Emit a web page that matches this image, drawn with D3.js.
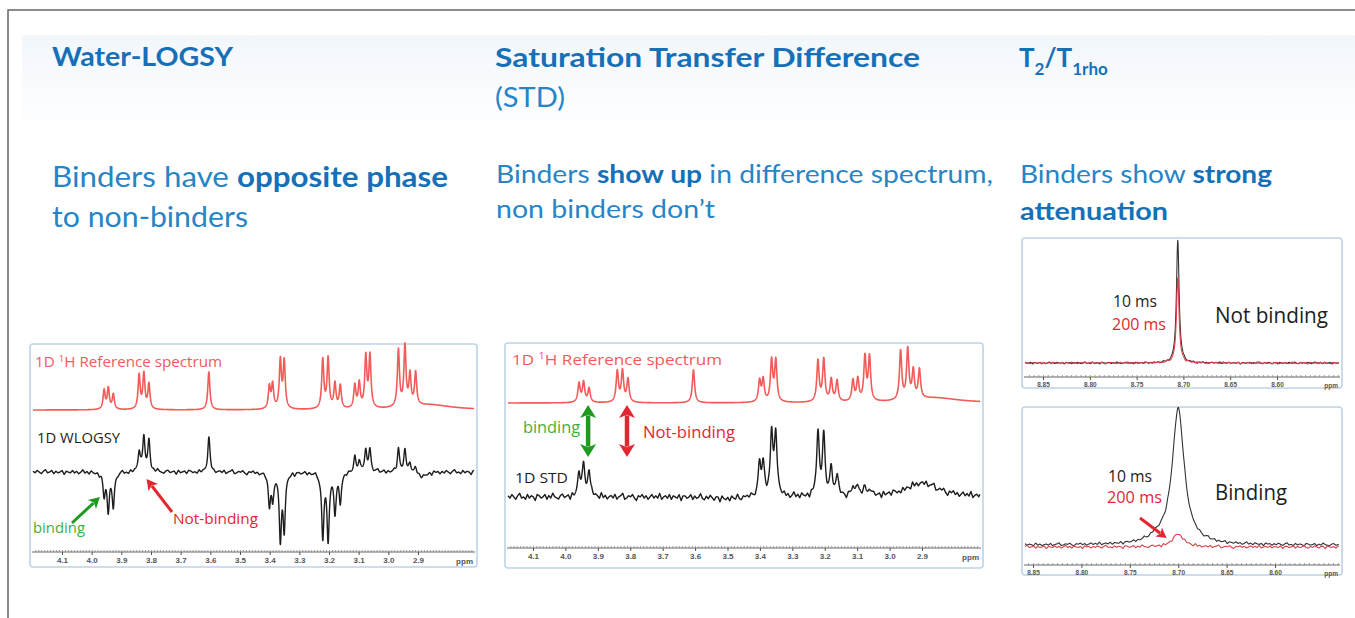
<!DOCTYPE html>
<html lang="en">
<head>
<meta charset="UTF-8">
<title>Ligand-observed NMR screening</title>
<script src="https://cdn.jsdelivr.net/npm/d3@7"></script>
<style>
  body { margin: 0; background: #fff; }
  svg { display: block; font-family: 'Lato', 'Open Sans', sans-serif; }
  .tick text { font-family: 'Liberation Sans', Arial, sans-serif; font-weight: bold; fill: #555; }
</style>
</head>
<body>
<svg id="chart" width="1355" height="618"></svg>
<script>
// ---- data -------------------------------------------------------------
// peak positions (ppm) shared by the reference and the screening spectra
const peakPpm = [3.958, 3.944, 3.927, 3.840, 3.824, 3.807, 3.605, 3.401, 3.390, 3.364, 3.351,
                 3.221, 3.203, 3.180, 3.162, 3.113, 3.098, 3.076, 3.062, 2.966, 2.944, 2.927, 2.908];
// peak heights
const refHeightsLogsy = [19, 21, 15, 34, 35, 25, 38, 22, 24, 48, 47, 49, 50, 25, 23, 23, 25, 51, 52, 57, 60, 31, 33];
const wlogsyHeights   = [-23, -37, -35, 21, 34, 30, 34, -31, -26, -65, -54, -64, -66, -39, -30, 14, 12, 21, 21, 23, 21, 9, 4];
const refHeightsStd   = [19, 20, 14, 31, 31, 23, 33, 21, 22, 41, 41, 41, 42, 22, 21, 21, 22, 44, 44, 49, 50, 28, 29];
const stdHeights      = [23, 30, 26, 0, 0, 0, 0, 30, 31, 62, 62, 64, 59, 25, 21, 9, 11, 7, 7, 0, 0, 0, 0];

// broad baseline features: [ppm, height, half width]
const refHumps    = [[2.86, 5, 0.09]];
const wlogsyHumps = [[2.885, -5, 0.015]];
const stdHumps    = [[2.90, 14, 0.06], [3.50, -2, 0.05]];

// T2 / T1rho relaxation-filtered peak at 8.70 ppm: [ppm, height, half width]
const notBinding10  = [[8.706, 123, 0.0017]];
const notBinding200 = [[8.706, 85, 0.0017]];
const binding10     = [[8.700, 136, 0.0075], [8.722, 4, 0.010]];
const binding200    = [[8.700, 13, 0.0070]];

// tick labels
const ticksLogsy = [4.1, 4.0, 3.9, 3.8, 3.7, 3.6, 3.5, 3.4, 3.3, 3.2, 3.1, 3.0, 2.9];
const ticksT2    = [8.85, 8.80, 8.75, 8.70, 8.65, 8.60];

// hand-read baseline noise (arbitrary units)
const noise = [
  1, -1, 2, 0, -2, 1, 3, -1, 0, 2, -2, 1, -1, 0, 2, -3, 1, 0, -1, 2,
  -1, 1, -2, 0, 3, -1, 1, -2, 2, 0, -1, 1, -3, 2, 0, 1, -2, 1, -1, 2,
  0, -2, 1, 3, -1, 0, -2, 2, -1, 1, 0, -3, 2, 1, -1, 0, 2, -2, 1, -1,
  3, 0, -1, -2, 1, 2, -1, 0, 1, -3, 2, -1, 0, 1, -2, 2, 1, -1, 0, -2,
  2, -1, 1, 0, -2, 3, -1, 1, -2, 0, 1, -1, 2, -2, 0, 1, 3, -2, -1, 1,
  0, 2, -1, -3, 1, 0, 2, -1, 1, -2, 0, 2, -1, 1, -1, 3, -2, 0, 1, -1,
  2, -2, 1, 0, -1, 2, -3, 1, 1, -1, 0, 2, -2, 1, -1, 0, 3, -1, -2, 1,
  -1, 2, 0, -2, 1, 1, -3, 2, 0, -1, 1, -2, 2, 0, -1, 3, -1, -2, 1, 0
];

// ---- drawing ------------------------------------------------------------
const svg = d3.select("#chart");
const blueBold = "#1670b8", blueText = "#2784c6";
const refRed = "#f35a5a", darkRed = "#e3262f";

const defs = svg.append("defs");
const grad = defs.append("linearGradient").attr("id", "band").attr("x1", 0).attr("y1", 0).attr("x2", 0).attr("y2", 1);
grad.append("stop").attr("offset", "0%").attr("stop-color", "#f2f7fc");
grad.append("stop").attr("offset", "100%").attr("stop-color", "#ffffff");

svg.append("rect").attr("x", 22).attr("y", 35).attr("width", 1333).attr("height", 100).attr("fill", "url(#band)");
svg.append("path").attr("d", "M8,618 V10 H1355").attr("fill", "none").attr("stroke", "#666").attr("stroke-width", 1.5);

// headings
function textLine(x, y, size, parts, width) {
  const t = svg.append("text").attr("x", x).attr("y", y).attr("font-size", size)
    .attr("textLength", width).attr("lengthAdjust", "spacingAndGlyphs").style("white-space", "pre");
  parts.forEach(p => t.append("tspan").text(p[0])
    .attr("font-weight", p[1] ? "bold" : "normal")
    .attr("fill", p[1] ? blueBold : blueText));
  return t;
}
textLine(52, 66, 26, [["Water-LOGSY", 1]], 181);
textLine(495, 67, 26, [["Saturation Transfer Difference", 1]], 425);
textLine(495, 107, 26, [["(STD)", 0]], 70);
const t2 = svg.append("text").attr("x", 1019).attr("y", 67).attr("font-size", 26)
  .attr("font-weight", "bold").attr("fill", blueBold);
t2.append("tspan").text("T");
t2.append("tspan").text("2").attr("font-size", 17).attr("dy", 8);
t2.append("tspan").text("/T").attr("dy", -8);
t2.append("tspan").text("1rho").attr("font-size", 17).attr("dy", 8);

textLine(52, 187, 28, [["Binders have ", 0], ["opposite phase", 1]], 396);
textLine(52, 227, 28, [["to non-binders", 0]], 196);
textLine(496, 183, 25, [["Binders ", 0], ["show up", 1], [" in difference spectrum,", 0]], 497);
textLine(496, 218, 25, [["non binders don\u2019t", 0]], 219);
textLine(1020, 183, 25, [["Binders show ", 0], ["strong", 1]], 252);
textLine(1020, 220, 25, [["attenuation", 1]], 148);

// spectrum helpers
function lorentz(p, peaks) {
  let v = 0;
  peaks.forEach(([c, h, w]) => { v += h / (1 + ((p - c) / w) ** 2); });
  return v;
}
function noiseAt(p, from, step, offset) {
  const t = (from - p) / step + offset;
  const i = Math.floor(t), f = t - i;
  const a = noise[((i % noise.length) + noise.length) % noise.length];
  const b = noise[(((i + 1) % noise.length) + noise.length) % noise.length];
  return a * (1 - f) + b * f;
}
function trace(cfg) {
  const pts = [];
  for (let p = cfg.from; p >= cfg.to; p -= cfg.grid) {
    let v = lorentz(p, cfg.peaks);
    if (cfg.noiseAmp) v += cfg.noiseAmp * noiseAt(p, cfg.from, cfg.noiseStep, cfg.noiseOffset);
    pts.push([p, v]);
  }
  return pts;
}
function zipPeaks(heights, hw, humps) {
  return peakPpm.map((p, i) => [p, heights[i], hw]).concat(humps || []);
}

function panel(box) {
  const g = svg.append("g");
  g.append("rect").attr("x", box.x).attr("y", box.y).attr("width", box.w).attr("height", box.h)
    .attr("rx", 3).attr("fill", "#fff").attr("stroke", "#bfd2e8").attr("stroke-width", 1.6);
  return g;
}

function axis(g, x, y, box, ticks, fmt, minorStep, fontSize) {
  const lo = x.invert(box.x + 3), hi = x.invert(box.x + box.w - 3);
  g.append("line").attr("x1", box.x + 2).attr("x2", box.x + box.w - 2).attr("y1", y).attr("y2", y)
    .attr("stroke", "#666").attr("stroke-width", 1);
  const minor = d3.range(Math.ceil(hi / minorStep), Math.floor(lo / minorStep) + 1).map(k => k * minorStep);
  const ax2 = g.append("g").attr("transform", `translate(0,${y})`)
    .call(d3.axisBottom(x).tickValues(minor).tickSize(-2).tickFormat(""));
  ax2.select(".domain").remove();
  ax2.selectAll("line").attr("stroke", "#888").attr("stroke-width", 0.8);
  const ax = g.append("g").attr("transform", `translate(0,${y})`)
    .call(d3.axisBottom(x).tickValues(ticks).tickSize(3).tickPadding(2).tickFormat(d3.format(fmt)));
  ax.select(".domain").remove();
  ax.selectAll("line").attr("stroke", "#555");
  ax.selectAll("text").attr("font-size", fontSize);
  g.append("text").attr("x", box.x + box.w - 4).attr("y", y + 3 + fontSize + 1).attr("text-anchor", "end")
    .attr("font-size", fontSize).attr("font-family", "Liberation Sans, Arial, sans-serif")
    .attr("font-weight", "bold").attr("fill", "#555").text("ppm");
}

function drawTrace(g, x, base, pts, color, width) {
  const y = d3.scaleLinear().domain([0, 100]).range([base, base - 100]);
  g.append("path").datum(pts)
    .attr("d", d3.line().x(d => x(d[0])).y(d => y(d[1])))
    .attr("fill", "none").attr("stroke", color).attr("stroke-width", width).attr("stroke-linejoin", "round");
}

function arrow(g, x1, y1, x2, y2, color, w, headLen, headW, both) {
  const dx = x2 - x1, dy = y2 - y1, L = Math.hypot(dx, dy);
  const ux = dx / L, uy = dy / L, nx = -uy, ny = ux;
  const sx = both ? x1 + ux * headLen * 0.8 : x1, sy = both ? y1 + uy * headLen * 0.8 : y1;
  g.append("line").attr("x1", sx).attr("y1", sy)
    .attr("x2", x2 - ux * headLen * 0.8).attr("y2", y2 - uy * headLen * 0.8)
    .attr("stroke", color).attr("stroke-width", w);
  const head = (tx, ty, dirx, diry) => {
    const bx = tx - dirx * headLen, by = ty - diry * headLen;
    g.append("path").attr("fill", color)
      .attr("d", `M${tx},${ty} L${bx + nx * headW / 2},${by + ny * headW / 2} L${bx + dirx * headLen * 0.25},${by + diry * headLen * 0.25} L${bx - nx * headW / 2},${by - ny * headW / 2} Z`);
  };
  head(x2, y2, ux, uy);
  if (both) head(x1, y1, -ux, -uy);
}

function label(g, x, y, size, color, parts) {
  const t = g.append("text").attr("x", x).attr("y", y).attr("font-size", size).attr("fill", color)
    .attr("font-family", "'Open Sans', 'Noto Sans', sans-serif");
  parts.forEach(p => {
    const s = t.append("tspan").text(p[0]);
    if (p[1]) s.attr("font-size", size * 0.65).attr("dy", -size * 0.38);
    if (p[2]) s.attr("dy", size * 0.38);
  });
  return t;
}

// --- panel 1: WaterLOGSY
{
  const box = { x: 30, y: 344, w: 447, h: 223 };
  const g = panel(box);
  const x = d3.scaleLinear().domain([4.1, 2.9]).range([62, 418]);
  const from = x.invert(box.x + 3), to = x.invert(box.x + box.w - 3);
  drawTrace(g, x, 410, trace({ from, to, grid: 0.0005, peaks: zipPeaks(refHeightsLogsy, 0.0042, refHumps) }), refRed, 1.6);
  drawTrace(g, x, 472, trace({ from, to, grid: 0.0005, peaks: zipPeaks(wlogsyHeights, 0.0045, wlogsyHumps),
    noiseAmp: 0.8, noiseStep: 0.007, noiseOffset: 0 }), "#1d1d1d", 1.4);
  axis(g, x, 552, box, ticksLogsy, ".1f", 0.01, 8);
  label(g, 35, 367, 14, refRed, [["1D "], ["1", true], ["H Reference spectrum", false, true]]).attr("textLength", 187).attr("lengthAdjust", "spacingAndGlyphs");
  label(g, 37, 443, 14, "#1d1d1d", [["1D WLOGSY"]]).attr("textLength", 83).attr("lengthAdjust", "spacingAndGlyphs");
  label(g, 33, 533, 15, "#3db13d", [["binding"]]).attr("textLength", 52).attr("lengthAdjust", "spacingAndGlyphs");
  label(g, 173, 524, 15, darkRed, [["Not-binding"]]).attr("textLength", 85).attr("lengthAdjust", "spacingAndGlyphs");
  arrow(g, 72, 523, x(3.972), 497, "#1e9a1e", 3, 11, 12, false);
  arrow(g, 172, 512, x(3.815), 479, darkRed, 3, 11, 12, false);
}

// --- panel 2: STD
{
  const box = { x: 505, y: 343, w: 478, h: 225 };
  const g = panel(box);
  const x = d3.scaleLinear().domain([4.1, 2.9]).range([533, 922]);
  const from = x.invert(box.x + 3), to = x.invert(box.x + box.w - 3);
  drawTrace(g, x, 403, trace({ from, to, grid: 0.0005, peaks: zipPeaks(refHeightsStd, 0.0042, refHumps) }), refRed, 1.6);
  drawTrace(g, x, 497, trace({ from, to, grid: 0.0005, peaks: zipPeaks(stdHeights, 0.0048, stdHumps),
    noiseAmp: 1.2, noiseStep: 0.006, noiseOffset: 37 }), "#1d1d1d", 1.4);
  axis(g, x, 548, box, ticksLogsy, ".1f", 0.01, 8);
  label(g, 512, 365, 15, refRed, [["1D "], ["1", true], ["H Reference spectrum", false, true]]).attr("textLength", 210).attr("lengthAdjust", "spacingAndGlyphs");
  label(g, 515, 483, 15, "#1d1d1d", [["1D STD"]]).attr("textLength", 53).attr("lengthAdjust", "spacingAndGlyphs");
  label(g, 523, 433, 16, "#3db13d", [["binding"]]).attr("textLength", 57).attr("lengthAdjust", "spacingAndGlyphs");
  label(g, 643, 438, 16, darkRed, [["Not-binding"]]).attr("textLength", 92).attr("lengthAdjust", "spacingAndGlyphs");
  arrow(g, x(3.930), 405, x(3.930), 457, "#1e9a1e", 4.5, 13, 16, true);
  arrow(g, x(3.810), 405, x(3.810), 457, darkRed, 4.5, 13, 16, true);
}

// --- panel 3a: T2, not binding
{
  const box = { x: 1022, y: 238, w: 320, h: 150 };
  const g = panel(box);
  const x = d3.scaleLinear().domain([8.85, 8.60]).range([1043, 1277]);
  const from = x.invert(box.x + 3), to = x.invert(box.x + box.w - 3);
  drawTrace(g, x, 363, trace({ from, to, grid: 0.0002, peaks: notBinding10, noiseAmp: 0.35, noiseStep: 0.002, noiseOffset: 11 }), "#333", 1.1);
  drawTrace(g, x, 363, trace({ from, to, grid: 0.0002, peaks: notBinding200, noiseAmp: 0.35, noiseStep: 0.002, noiseOffset: 60 }), "#d9404a", 1.1);
  axis(g, x, 377, box, ticksT2, ".2f", 0.005, 6.5);
  label(g, 1113, 307, 16, "#1d1d1d", [["10 ms"]]).attr("textLength", 44).attr("lengthAdjust", "spacingAndGlyphs");
  label(g, 1112, 330, 16, darkRed, [["200 ms"]]).attr("textLength", 54).attr("lengthAdjust", "spacingAndGlyphs");
  label(g, 1215, 323, 21, "#1d1d1d", [["Not binding"]]).attr("textLength", 113).attr("lengthAdjust", "spacingAndGlyphs");
}

// --- panel 3b: T2, binding
{
  const box = { x: 1022, y: 407, w: 320, h: 168 };
  const g = panel(box);
  const x = d3.scaleLinear().domain([8.85, 8.60]).range([1033, 1275]);
  const from = x.invert(box.x + 3), to = x.invert(box.x + box.w - 3);
  drawTrace(g, x, 545, trace({ from, to, grid: 0.0002, peaks: binding10, noiseAmp: 0.55, noiseStep: 0.0022, noiseOffset: 80 }), "#333", 1.1);
  drawTrace(g, x, 547, trace({ from, to, grid: 0.0002, peaks: binding200, noiseAmp: 0.55, noiseStep: 0.0022, noiseOffset: 5 }), "#d9404a", 1.1);
  axis(g, x, 565, box, ticksT2, ".2f", 0.005, 6.5);
  label(g, 1108, 482, 16, "#1d1d1d", [["10 ms"]]).attr("textLength", 44).attr("lengthAdjust", "spacingAndGlyphs");
  label(g, 1107, 503, 16, darkRed, [["200 ms"]]).attr("textLength", 55).attr("lengthAdjust", "spacingAndGlyphs");
  label(g, 1215, 500, 21, "#1d1d1d", [["Binding"]]).attr("textLength", 72).attr("lengthAdjust", "spacingAndGlyphs");
  arrow(g, 1140, 518, x(8.712), 538, darkRed, 3, 10, 11, false);
}
</script>
</body>
</html>
